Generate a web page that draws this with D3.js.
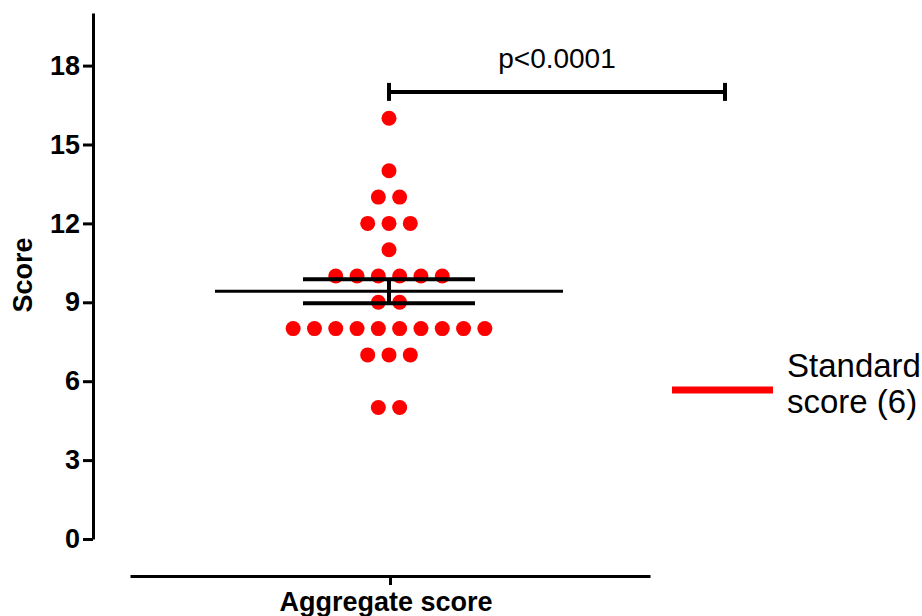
<!DOCTYPE html>
<html>
<head>
<meta charset="utf-8">
<script src="https://cdn.jsdelivr.net/npm/d3@7"></script>
<style>
  body { margin: 0; background: #fff; }
  svg text { font-family: "Liberation Sans", Arial, sans-serif; }
</style>
</head>
<body>
<svg id="canvas" width="922" height="616"></svg>
<script>
// data
const category = 'Aggregate score';
const scoreValues = [16, 14, 13, 12, 11, 10, 9, 8, 7, 5];
const scoreCounts = [1, 1, 2, 3, 1, 6, 2, 10, 3, 2];
const yTicks = [0, 3, 6, 9, 12, 15, 18];
const pLabel = 'p<0.0001';
const bracketY = 17;
const legendLines = ['Standard', 'score (6)'];

const svg = d3.select('#canvas');

const y = d3.scaleLinear().domain([0, 20]).range([539, 13]);
const x = d3.scalePoint().domain([category]).range([130, 650]).padding(0.5);
const cx = x(category) - 1;

// expand counts into points, spread horizontally like a column scatter
let points = [];
scoreValues.forEach((v, i) => {
  let n = scoreCounts[i];
  for (let k = 0; k < n; k++) {
    points.push({ value: v, offset: k - (n - 1) / 2 });
  }
});
const allValues = points.map((d) => d.value);
const mean = d3.mean(allValues);
const sem = d3.deviation(allValues) / Math.sqrt(allValues.length);

// y axis
const yAxis = svg
  .append('g')
  .attr('transform', 'translate(93,0)')
  .call(d3.axisLeft(y).tickValues(yTicks).tickSize(10).tickSizeOuter(0).tickPadding(3));
yAxis.select('.domain').attr('stroke', '#000').attr('stroke-width', 3);
yAxis.selectAll('.tick line').attr('stroke', '#000').attr('stroke-width', 3);
yAxis
  .selectAll('.tick text')
  .attr('fill', '#000')
  .style('font-size', '27px')
  .style('font-weight', 'bold')
  .style('font-family', '"Liberation Sans", Arial, sans-serif');

svg
  .append('text')
  .attr('transform', 'translate(32,275) rotate(-90)')
  .attr('text-anchor', 'middle')
  .style('font-size', '27px')
  .style('font-weight', 'bold')
  .text('Score');

// x axis
const xAxis = svg
  .append('g')
  .attr('transform', 'translate(0,576)')
  .call(d3.axisBottom(x).tickSize(9).tickSizeOuter(0).tickFormat(''));
xAxis.select('.domain').attr('stroke', '#000').attr('stroke-width', 3);
xAxis.selectAll('.tick line').attr('stroke', '#000').attr('stroke-width', 3);

svg
  .append('text')
  .attr('x', cx - 3)
  .attr('y', 611)
  .attr('text-anchor', 'middle')
  .style('font-size', '27px')
  .style('font-weight', 'bold')
  .text(category);

// dots
const spacing = 21.3;
svg
  .selectAll('circle.dot')
  .data(points)
  .enter()
  .append('circle')
  .attr('class', 'dot')
  .attr('cx', (d) => cx + d.offset * spacing)
  .attr('cy', (d) => y(d.value))
  .attr('r', 7.5)
  .attr('fill', '#ff0000');

// mean and SEM
svg
  .append('line')
  .attr('x1', cx - 174)
  .attr('x2', cx + 174)
  .attr('y1', y(mean))
  .attr('y2', y(mean))
  .attr('stroke', '#000')
  .attr('stroke-width', 3);
[mean + sem, mean - sem].forEach((v) => {
  svg
    .append('line')
    .attr('x1', cx - 86)
    .attr('x2', cx + 86)
    .attr('y1', y(v))
    .attr('y2', y(v))
    .attr('stroke', '#000')
    .attr('stroke-width', 4);
});
svg
  .append('line')
  .attr('x1', cx)
  .attr('x2', cx)
  .attr('y1', y(mean + sem))
  .attr('y2', y(mean - sem))
  .attr('stroke', '#000')
  .attr('stroke-width', 4);

// significance bracket
const bx1 = cx;
const bx2 = 725;
svg
  .append('line')
  .attr('x1', bx1)
  .attr('x2', bx2)
  .attr('y1', y(bracketY))
  .attr('y2', y(bracketY))
  .attr('stroke', '#000')
  .attr('stroke-width', 4);
[bx1, bx2].forEach((bx) => {
  svg
    .append('line')
    .attr('x1', bx)
    .attr('x2', bx)
    .attr('y1', y(bracketY) - 9)
    .attr('y2', y(bracketY) + 9)
    .attr('stroke', '#000')
    .attr('stroke-width', 4);
});
svg
  .append('text')
  .attr('x', (bx1 + bx2) / 2)
  .attr('y', 68)
  .attr('text-anchor', 'middle')
  .style('font-size', '28px')
  .text(pLabel);

// legend
svg
  .append('line')
  .attr('x1', 672)
  .attr('x2', 773)
  .attr('y1', 390)
  .attr('y2', 390)
  .attr('stroke', '#ff0000')
  .attr('stroke-width', 7);
svg
  .selectAll('text.legend')
  .data(legendLines)
  .enter()
  .append('text')
  .attr('class', 'legend')
  .attr('x', 787)
  .attr('y', (d, i) => 377 + i * 36)
  .style('font-size', '33px')
  .text((d) => d);
</script>
</body>
</html>
